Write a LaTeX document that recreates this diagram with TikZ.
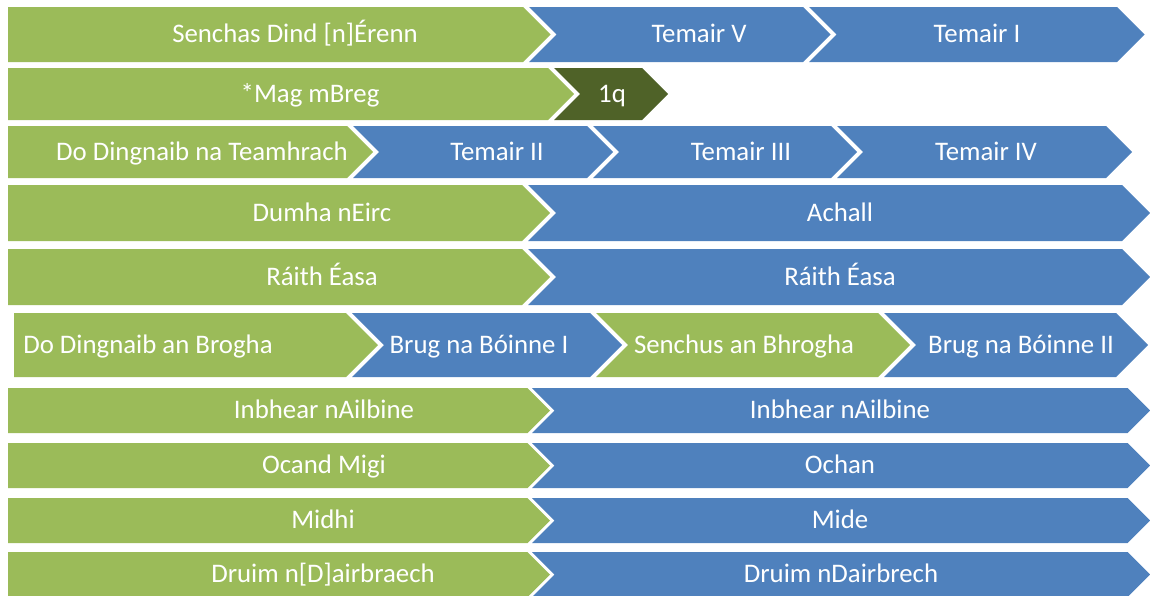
\documentclass[tikz,border=0pt]{standalone}
\usepackage{fontspec}
\setmainfont{Carlito}
\definecolor{cgreen}{HTML}{9BBB59}
\definecolor{cblue}{HTML}{4F81BD}
\definecolor{cdark}{HTML}{4F6228}
% #1 left x, #2 tip x, #3 top y, #4 bottom y, #5 colour
\newcommand{\chevfirst}[5]{\fill[#5] (#1,#3) -- ({#2-(#4-#3)/2},#3) -- (#2,{(#3+#4)/2}) -- ({#2-(#4-#3)/2},#4) -- (#1,#4) -- cycle;}
\newcommand{\chevnext}[5]{\fill[#5] (#1,#3) -- ({#2-(#4-#3)/2},#3) -- (#2,{(#3+#4)/2}) -- ({#2-(#4-#3)/2},#4) -- (#1,#4) -- ({#1+(#4-#3)/2},{(#3+#4)/2}) -- cycle;}
\tikzset{lbl/.style={anchor=base, text=white, inner sep=0pt, font=\fontsize{26.8}{31}\selectfont}}
\begin{document}
\begin{tikzpicture}[x=1pt,y=-1pt]
\useasboundingbox (0,0) rectangle (1150,595);
\clip (0,0) rectangle (1150,595);
% Row 1
\chevfirst{8}{550.5}{7}{62}{cgreen}
\chevnext{529}{830.5}{7}{62}{cblue}
\chevnext{809}{1144.5}{7}{62}{cblue}
\node[lbl] (r1a) at (295,42.8) {Senchas Dind [n]Érenn};
\node[lbl] (r1b) at (699,42.8) {Temair V};
\node[lbl] (r1c) at (977,42.8) {Temair I};
% Row 2
\chevfirst{8}{574}{68}{120}{cgreen}
\chevnext{554}{668}{68}{120}{cdark}
\node[lbl] (r2a) at (310,102.3) {*Mag mBreg};
\node[lbl] (r2b) at (612,102.3) {1q};
% Row 3
\chevfirst{8}{373}{126}{178}{cgreen}
\chevnext{353}{613}{126}{178}{cblue}
\chevnext{593}{857}{126}{178}{cblue}
\chevnext{837}{1132}{126}{178}{cblue}
\node[lbl] (r3a) at (202,160.3) {Do Dingnaib na Teamhrach};
\node[lbl] (r3b) at (497,160.3) {Temair II};
\node[lbl] (r3c) at (741,160.3) {Temair III};
\node[lbl] (r3d) at (986,160.3) {Temair IV};
% Row 4
\chevfirst{8}{550}{185}{241}{cgreen}
\chevnext{528}{1150}{185}{241}{cblue}
\node[lbl] (r4a) at (322,221.3) {Dumha nEirc};
\node[lbl] (r4b) at (840,221.3) {Achall};
% Row 5
\chevfirst{8}{550}{249}{305}{cgreen}
\chevnext{528}{1150}{249}{305}{cblue}
\node[lbl] (r5a) at (322,285.3) {Ráith Éasa};
\node[lbl] (r5b) at (840,285.3) {Ráith Éasa};
% Row 6
\chevfirst{14}{378}{313}{377}{cgreen}
\chevnext{352}{622}{313}{377}{cblue}
\chevnext{596}{910}{313}{377}{cgreen}
\chevnext{884}{1148}{313}{377}{cblue}
\node[lbl] (r6a) at (148,353.3) {Do Dingnaib an Brogha};
\node[lbl] (r6b) at (479,353.3) {Brug na Bóinne I};
\node[lbl] (r6c) at (744,353.3) {Senchus an Bhrogha};
\node[lbl] (r6d) at (1021,353.3) {Brug na Bóinne II};
% Row 7
\chevfirst{8}{550}{388}{433}{cgreen}
\chevnext{532}{1150}{388}{433}{cblue}
\node[lbl] (r7a) at (324,418.8) {Inbhear nAilbine};
\node[lbl] (r7b) at (840,418.8) {Inbhear nAilbine};
% Row 8
\chevfirst{8}{550}{443}{488}{cgreen}
\chevnext{532}{1150}{443}{488}{cblue}
\node[lbl] (r8a) at (324,473.8) {Ocand Migi};
\node[lbl] (r8b) at (840,473.8) {Ochan};
% Row 9
\chevfirst{8}{550}{498}{543}{cgreen}
\chevnext{532}{1150}{498}{543}{cblue}
\node[lbl] (r9a) at (323,528.8) {Midhi};
\node[lbl] (r9b) at (840,528.8) {Mide};
% Row 10
\chevfirst{8}{550}{552}{597}{cgreen}
\chevnext{532}{1150}{552}{597}{cblue}
\node[lbl] (r10a) at (323,582.8) {Druim n[D]airbraech};
\node[lbl] (r10b) at (841,582.8) {Druim nDairbrech};
\end{tikzpicture}
\end{document}
